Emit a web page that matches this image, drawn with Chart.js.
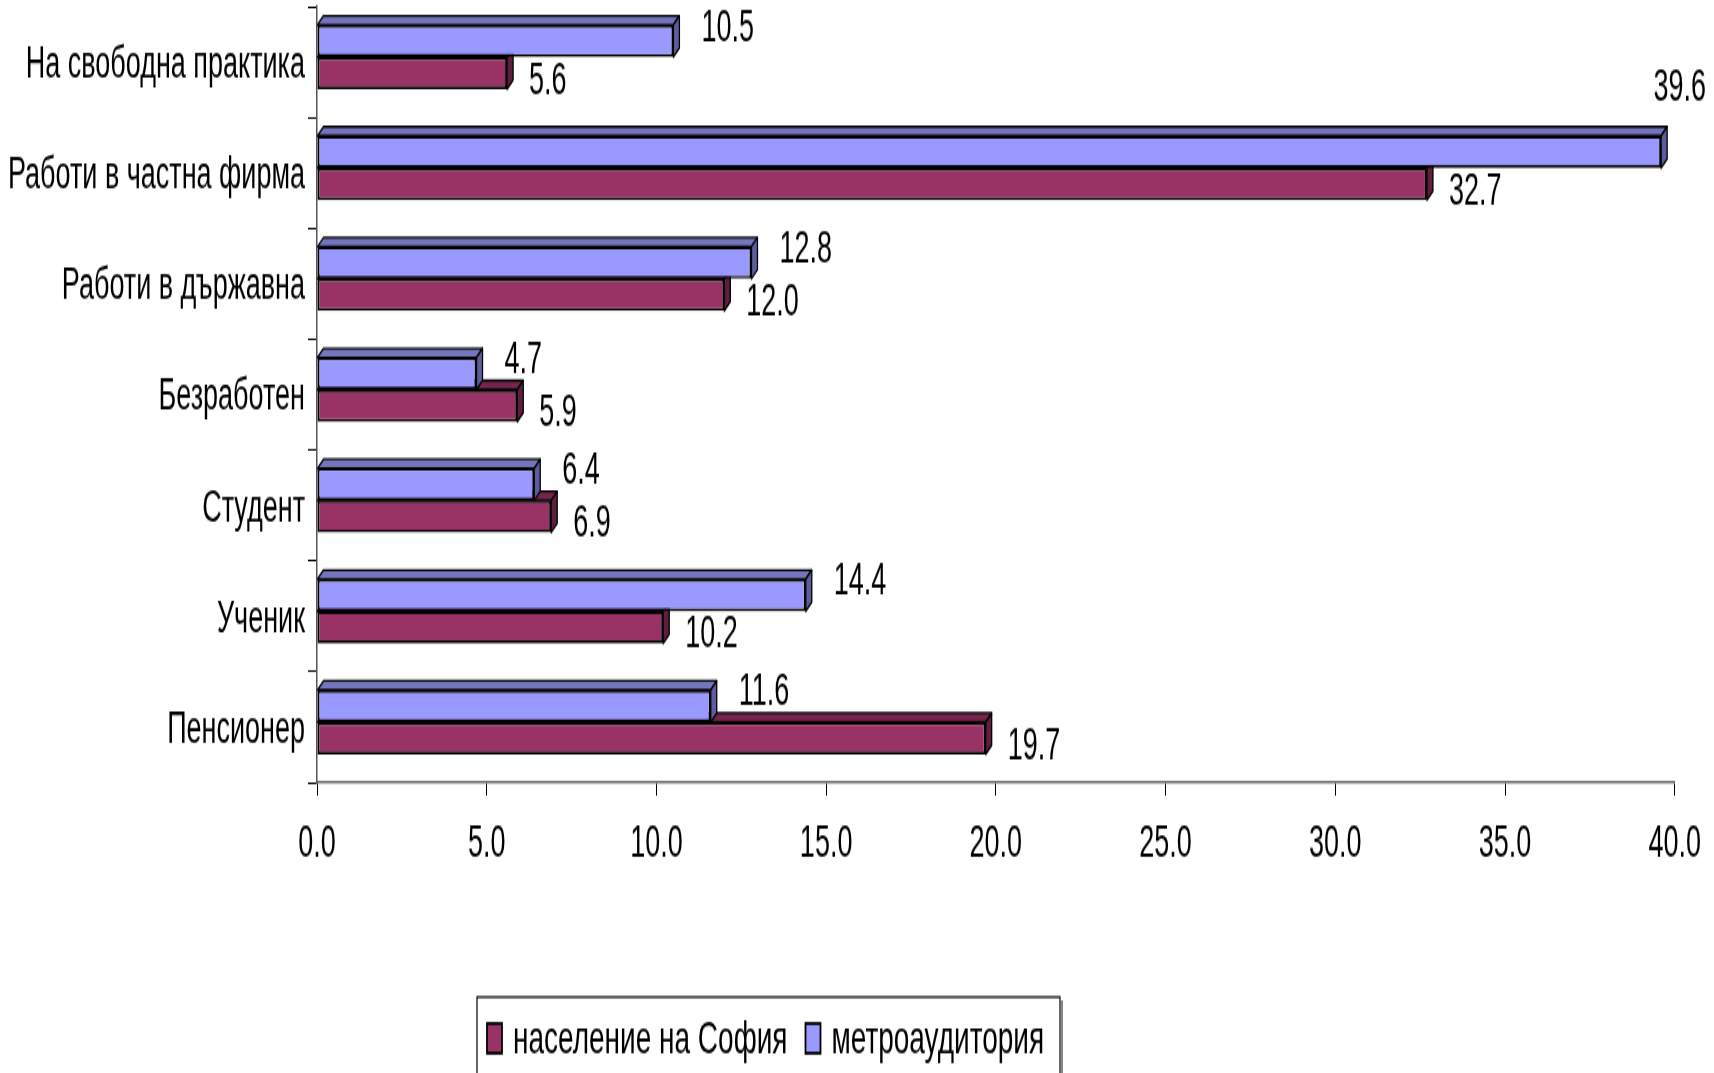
<!DOCTYPE html>
<html>
<head>
<meta charset="utf-8">
<script src="https://cdn.jsdelivr.net/npm/chart.js@4.4.1/dist/chart.umd.min.js"></script>
<style>
html, body { margin: 0; padding: 0; background: #fff; overflow: hidden; }
#chart { display: block; }
</style>
</head>
<body>
<canvas id="chart" width="1714" height="650" style="width:1714px;height:1073px"></canvas>
<script>
// data
const categories = ['На свободна практика', 'Работи в частна фирма', 'Работи в държавна', 'Безработен', 'Студент', 'Ученик', 'Пенсионер'];
const metroValues = [10.5, 39.6, 12.8, 4.7, 6.4, 14.4, 11.6];
const sofiaValues = [5.6, 32.7, 12.0, 5.9, 6.9, 10.2, 19.7];
const metroName = 'метроаудитория';
const sofiaName = 'население на София';
const xMin = 0, xMax = 40, xStep = 5;

const FONT = "'Liberation Sans', Arial, sans-serif";
const FONT_SIZE = 27;
Chart.defaults.font.family = FONT;
Chart.defaults.color = '#000';

// the original text is tall and narrow, so the canvas is drawn short and stretched by css
const DX = 6, DY = 5.5;
// excel centres the bar together with its 3d depth, so the front face sits a bit higher
const DEPTH_SHIFT = 3;

const shiftPlugin = {
    id: 'depthShift',
    afterDatasetsUpdate(chart) {
        chart.data.datasets.forEach((ds, di) => {
            chart.getDatasetMeta(di).data.forEach(bar => { bar.y -= DEPTH_SHIFT; });
        });
    }
};

const depthPlugin = {
    id: 'depth',
    beforeDatasetsDraw(chart) {
        const ctx = chart.ctx;
        // lower bar first so the upper bar covers its top face
        [1, 0].forEach(di => {
            const ds = chart.data.datasets[di];
            chart.getDatasetMeta(di).data.forEach(bar => {
                const { x, y, base, height } = bar.getProps(['x', 'y', 'base', 'height'], true);
                const top = y - height / 2, bottom = y + height / 2;
                ctx.save();
                ctx.lineWidth = 1.3;
                ctx.strokeStyle = '#000';
                ctx.lineJoin = 'round';
                ctx.beginPath();
                ctx.moveTo(base, top);
                ctx.lineTo(base + DX, top - DY);
                ctx.lineTo(x + DX, top - DY);
                ctx.lineTo(x, top);
                ctx.closePath();
                ctx.fillStyle = ds.topColor;
                ctx.fill();
                ctx.stroke();
                ctx.beginPath();
                ctx.moveTo(x, top);
                ctx.lineTo(x + DX, top - DY);
                ctx.lineTo(x + DX, bottom - DY);
                ctx.lineTo(x, bottom);
                ctx.closePath();
                ctx.fillStyle = ds.sideColor;
                ctx.fill();
                ctx.stroke();
                ctx.restore();
            });
        });
    }
};

const labelPlugin = {
    id: 'valueLabels',
    afterDatasetsDraw(chart) {
        const ctx = chart.ctx;
        ctx.save();
        ctx.font = FONT_SIZE + 'px ' + FONT;
        ctx.fillStyle = '#000';
        ctx.textBaseline = 'middle';
        ctx.textAlign = 'left';
        chart.data.datasets.forEach((ds, di) => {
            chart.getDatasetMeta(di).data.forEach((bar, i) => {
                const { x, y, height } = bar.getProps(['x', 'y', 'height'], true);
                const text = ds.data[i].toFixed(1);
                const w = ctx.measureText(text).width;
                let tx, ty;
                if (di === 0) {
                    tx = x + 28;
                    ty = y - height / 2 + 2;
                } else {
                    tx = x + 22;
                    ty = y + 5;
                }
                if (tx + w > chart.width - 4) {
                    tx = chart.width - 8 - w;
                    ty = y - height / 2 - 29;
                }
                ctx.fillText(text, tx, ty);
            });
        });
        ctx.restore();
    }
};

const legendPlugin = {
    id: 'boxLegend',
    afterDraw(chart) {
        const ctx = chart.ctx;
        const lx = 477, ly = 604, lw = 583, lh = 50;
        ctx.save();
        ctx.lineWidth = 1.2;
        ctx.strokeStyle = '#000';
        ctx.strokeRect(lx, ly, lw, lh);
        ctx.strokeStyle = '#888';
        ctx.lineWidth = 2;
        ctx.beginPath();
        ctx.moveTo(lx + lw + 2, ly + 2);
        ctx.lineTo(lx + lw + 2, ly + lh);
        ctx.stroke();

        ctx.font = '28px ' + FONT;
        ctx.textBaseline = 'middle';
        ctx.textAlign = 'left';
        let cx = 487;
        const cy = 629;
        [1, 0].forEach(di => {
            const ds = chart.data.datasets[di];
            ctx.fillStyle = ds.backgroundColor;
            ctx.fillRect(cx, cy - 9, 15, 18);
            ctx.strokeStyle = '#000';
            ctx.lineWidth = 1.8;
            ctx.strokeRect(cx, cy - 9, 15, 18);
            ctx.fillStyle = '#000';
            ctx.fillText(ds.label, cx + 26, cy + 1);
            cx += 26 + ctx.measureText(ds.label).width + 18;
        });
        ctx.restore();
    }
};

const barBorder = { top: 1.7, bottom: 1.7, left: 2, right: 2 };

new Chart(document.getElementById('chart'), {
    type: 'bar',
    data: {
        labels: categories,
        datasets: [
            {
                label: metroName,
                data: metroValues,
                backgroundColor: '#9999ff',
                topColor: '#7575bd',
                sideColor: '#5c5c9e',
                borderColor: '#000',
                borderWidth: barBorder,
                borderSkipped: false
            },
            {
                label: sofiaName,
                data: sofiaValues,
                backgroundColor: '#993366',
                topColor: '#74264c',
                sideColor: '#5e1f3e',
                borderColor: '#000',
                borderWidth: barBorder,
                borderSkipped: false
            }
        ]
    },
    options: {
        indexAxis: 'y',
        responsive: false,
        animation: false,
        devicePixelRatio: 1,
        categoryPercentage: 0.58,
        barPercentage: 1.0,
        layout: { padding: { left: 0, right: 33, top: 4, bottom: 116 } },
        plugins: {
            legend: { display: false },
            tooltip: { enabled: false }
        },
        scales: {
            x: {
                min: xMin,
                max: xMax,
                ticks: {
                    stepSize: xStep,
                    padding: 13,
                    font: { size: FONT_SIZE },
                    maxRotation: 0,
                    callback: v => v.toFixed(1)
                },
                grid: { drawOnChartArea: false, drawTicks: true, tickLength: 8, color: '#000', lineWidth: 1 },
                border: { display: true, color: '#666', width: 1.5 },
                afterFit: scale => { scale.height = 60; }
            },
            y: {
                ticks: { padding: 3, font: { size: FONT_SIZE }, labelOffset: 2 },
                grid: { drawOnChartArea: false, drawTicks: true, tickLength: 9, color: '#000', lineWidth: 1 },
                border: { display: true, color: '#555', width: 1.5 },
                afterFit: scale => {
                    scale.width = 317;
                    scale.paddingTop = 0;
                    scale.paddingBottom = 0;
                }
            }
        }
    },
    plugins: [shiftPlugin, depthPlugin, labelPlugin, legendPlugin]
});
</script>
</body>
</html>
